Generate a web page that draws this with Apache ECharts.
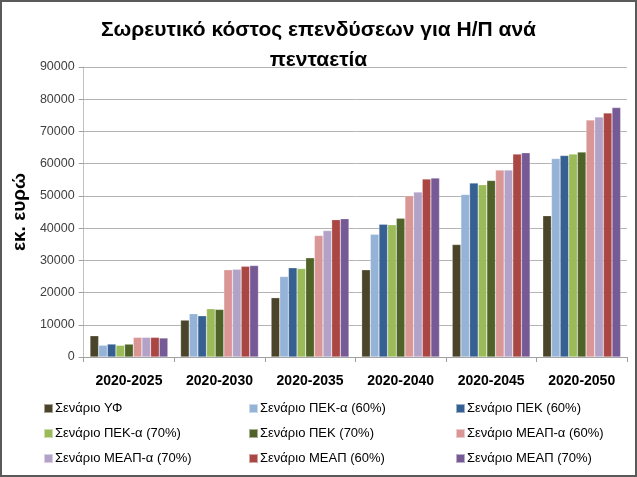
<!DOCTYPE html>
<html><head><meta charset="utf-8">
<script src="https://cdn.jsdelivr.net/npm/echarts@6/dist/echarts.min.js"></script>
<style>
html,body{margin:0;padding:0;background:#fff;}
#c{width:637px;height:477px;box-sizing:border-box;border:2px solid #5a5a5a;}
</style></head>
<body><div id="c"></div>
<script>
const categories = ['2020-2025','2020-2030','2020-2035','2020-2040','2020-2045','2020-2050'];
const seriesNames = ['Σενάριο ΥΦ','Σενάριο ΠΕΚ-α (60%)','Σενάριο ΠΕΚ (60%)','Σενάριο ΠΕΚ-α (70%)','Σενάριο ΠΕΚ (70%)','Σενάριο ΜΕΑΠ-α (60%)','Σενάριο ΜΕΑΠ-α (70%)','Σενάριο ΜΕΑΠ (60%)','Σενάριο ΜΕΑΠ (70%)'];
const sYF      = [6600, 11450, 18400, 27060, 34900, 43870];
const sPEKa60  = [3650, 13430, 24980, 38080, 50460, 61610];
const sPEK60   = [4020, 12800, 27680, 41180, 53990, 62540];
const sPEKa70  = [3620, 14980, 27460, 41080, 53470, 62970];
const sPEK70   = [4000, 14770, 30770, 43030, 54800, 63590];
const sMEAPa60 = [6100, 27060, 37680, 50060, 58020, 73590];
const sMEAPa70 = [6100, 27240, 39220, 51200, 58020, 74520];
const sMEAP60  = [6100, 28170, 42630, 55230, 62970, 75760];
const sMEAP70  = [5900, 28390, 42940, 55540, 63370, 77400];
const colors = ['#4a452a','#95b3d7','#366092','#9bbb59','#4f6228','#d99694','#b3a2c7','#aa4643','#765a96'];
const allData = [sYF,sPEKa60,sPEK60,sPEKa70,sPEK70,sMEAPa60,sMEAPa70,sMEAP60,sMEAP70];

const chart = echarts.init(document.getElementById('c'), null, {renderer:'canvas'});
const FONT = '"Liberation Sans", Arial, sans-serif';
const legendCols = [36, 241, 448];
const legends = legendCols.map((x,ci)=>({
  show:true, orient:'vertical',
  left:x, top:395, itemGap:12,
  itemWidth:9, itemHeight:9, icon:'rect',
  textStyle:{fontFamily:FONT,fontSize:13,color:'#000',padding:[0,0,0,-3]},
  data:[seriesNames[ci], seriesNames[ci+3], seriesNames[ci+6]]
}));
chart.setOption({
  animation:false,
  color: colors,
  title:{
    text:'Σωρευτικό κόστος επενδύσεων για Η/Π ανά\nπενταετία',
    left:'center', top:8,
    textStyle:{fontFamily:FONT,fontSize:21,fontWeight:'bold',color:'#000',lineHeight:30}
  },
  grid:{left:80,right:8,top:65,bottom:118,containLabel:false},
  legend: legends,
  xAxis:{
    type:'category', data:categories,
    axisLine:{lineStyle:{color:'#a0a0a0'}},
    axisTick:{show:true,lineStyle:{color:'#a0a0a0'},length:5},
    axisLabel:{fontFamily:FONT,fontSize:14,fontWeight:'bold',color:'#000',margin:17}
  },
  yAxis:{
    type:'value', min:0, max:90000, interval:10000,
    name:'εκ. ευρώ', nameLocation:'middle', nameGap:32, nameRotate:90,
    nameTextStyle:{fontFamily:FONT,fontSize:19,fontWeight:'bold',color:'#000'},
    axisLine:{show:true,lineStyle:{color:'#c0c0c0'}},
    axisTick:{show:true,length:5,lineStyle:{color:'#a0a0a0'}},
    axisLabel:{fontFamily:FONT,fontSize:12.5,color:'#404040',margin:9,formatter:v=>String(v)},
    splitLine:{lineStyle:{color:'#b4b4b4',width:1}}
  },
  series: seriesNames.map((n,i)=>({
    name:n, type:'bar', data:allData[i],
    barGap:'0%', barCategoryGap:'14%',
    itemStyle:{borderColor:'rgba(255,255,255,0.5)',borderWidth:0.5}
  }))
});
</script></body></html>
